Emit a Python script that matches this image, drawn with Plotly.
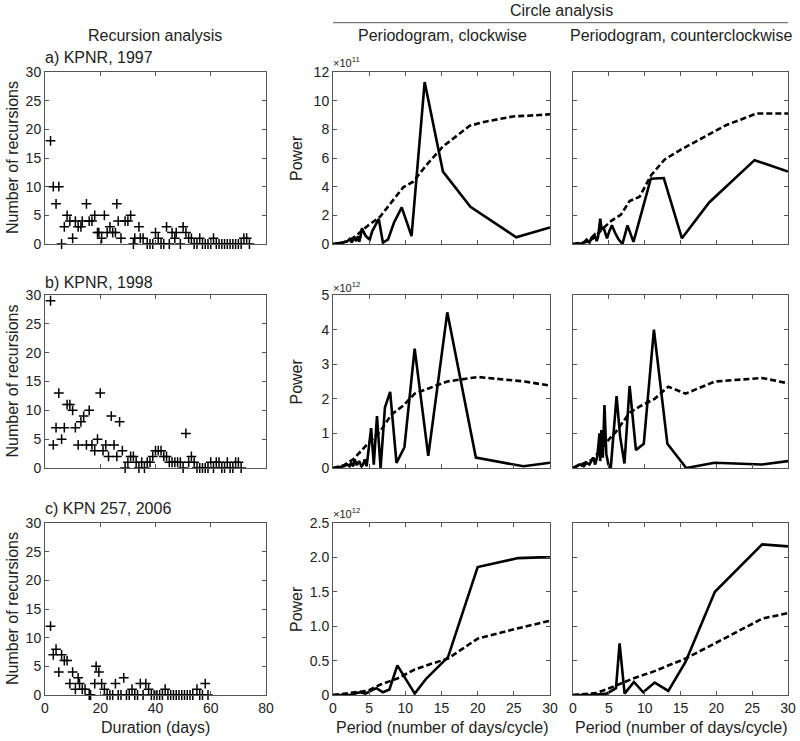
import plotly.graph_objects as go

# ---------------- data ----------------
# Recursion analysis (duration in days, number of recursions)
rec_a_days = [2, 3, 4, 5, 6, 7, 8, 9, 10, 11, 12, 13, 13.5, 15, 16, 17, 18, 19, 19.5, 20.5,
              21.5, 22.5, 23.5, 24.5, 25.5, 26, 26.5, 27.5, 29, 30, 31, 32, 32.5, 34, 34.5, 35.5,
              37, 38, 39, 40, 41, 42, 43, 44, 45, 46, 47, 47.5, 49, 50, 51, 52, 53, 54, 55, 56,
              57, 58, 59, 60, 61, 62, 63, 64, 65, 66, 67, 68, 69, 70, 71, 72, 73, 74]
rec_a_count = [18, 10, 7, 10, 0, 3, 5, 4, 1, 4, 3, 3, 4, 7, 4, 4, 5, 2, 2, 1,
               5, 2, 3, 2, 2, 7, 4, 1, 4, 4, 5, 0, 1, 3, 1, 1,
               0, 0, 0, 2, 1, 0, 0, 3, 0, 2, 1, 2, 0, 3, 2, 1, 1, 0, 0, 1,
               0, 0, 0, 0, 1, 0, 0, 0, 0, 0, 0, 0, 0, 0, 0, 1, 1, 0]

rec_b_days = [2, 3, 4, 5, 6, 7, 8, 9, 10, 11, 12, 13, 14, 15, 16, 17, 18, 19, 20, 21,
              22, 23, 24, 25, 26, 27, 28, 29, 30, 31, 32, 33, 34, 35, 36, 37, 38, 39, 40, 41,
              42, 43, 44, 45, 46, 47, 48, 49, 50, 51, 52, 53, 54, 55, 56, 57, 58, 59, 60, 61,
              62, 63, 64, 65, 66, 67, 68, 69, 70, 71]
rec_b_count = [29, 4, 7, 13, 5, 7, 11, 11, 10, 7, 4, 8, 9, 4, 10, 4, 3, 5, 13, 3,
               4, 2, 9, 4, 2, 8, 3, 0, 1, 2, 2, 1, 0, 1, 0, 1, 1, 2, 3, 3,
               3, 2, 2, 1, 1, 1, 1, 1, 0, 6, 1, 2, 1, 0, 0, 0, 0, 0, 1, 0,
               1, 1, 0, 0, 1, 0, 0, 1, 1, 0]

rec_c_days = [2, 3, 4, 5, 6, 7, 8, 9, 10, 11, 12, 12.5, 13.5, 14.5, 16, 16.5, 18, 18.5, 19.5, 20.5,
              21.5, 22.5, 23.5, 24.5, 25.5, 26.5, 27.5, 28.5, 29.5, 30.5, 31.5, 32.5, 33.5, 34.5, 35.5, 36.5,
              37.5, 38.5, 39.5, 40.5, 41.5, 42.5, 43.5, 44.5, 45.5, 46.5, 47.5, 48.5, 49.5, 50.5,
              51.5, 52.5, 53.5, 55, 56, 57, 58, 59]
rec_c_count = [12, 7, 8, 4, 7, 6, 6, 2, 4, 1, 3, 2, 1, 1, 0, 0, 2, 5, 4, 2,
               1, 0, 0, 0, 2, 0, 0, 3, 0, 0, 1, 0, 0, 2, 0, 2,
               1, 0, 0, 0, 0, 0, 1, 0, 0, 0, 0, 0, 0, 0,
               0, 0, 0, 1, 0, 0, 2, 0]

# Periodograms (period in days/cycle, power)
# row a (x 1e11)
a_cw_period = [0, 0.6, 1.0, 1.5, 2.0, 2.3, 2.6, 2.9, 3.2, 3.45, 3.62, 3.8, 4.0, 4.22, 4.47, 4.75,
               5.07, 5.43, 5.85, 6.33, 6.9, 7.6, 8.44, 9.5, 10.86, 12.67, 15.2, 19.0, 25.33, 30]
a_cw_power = [0, 0.03, 0.08, 0.12, 0.2, 0.35, 0.1, 0.45, 0.2, 0.55, 0.15, 0.5, 1.1, 0.8, 0.6, 0.45,
              0.3, 0.9, 1.3, 1.75, 0.1, 0.3, 1.5, 2.55, 0.55, 11.3, 5.05, 2.6, 0.47, 1.15]
a_cw_sig_period = [0, 1, 2, 3, 4.15, 5, 6.5, 8, 9.7, 11.1, 12.9, 15.2, 18.9, 21.2, 24.9, 28.6, 30]
a_cw_sig_power = [0, 0.05, 0.2, 0.5, 1.0, 1.35, 1.9, 2.9, 3.95, 4.35, 5.5, 6.8, 8.25, 8.55, 8.9, 9.0, 9.05]

a_ccw_period = [0, 1.0, 1.4, 1.9, 2.3, 2.6, 3.0, 3.3, 3.5, 3.8, 4.0, 4.22, 4.47, 4.75, 5.07, 5.43,
                5.85, 6.33, 6.9, 7.6, 8.44, 10.86, 12.67, 15.2, 19.0, 25.33, 30]
a_ccw_power = [0, 0, 0.05, 0.3, 0.1, 0.45, 0.65, 0.2, 0.5, 1.76, 1.0, 1.2, 0.8, 0.4, 0.9, 1.3,
               0.8, 0.35, 0.0, 1.3, 0.15, 4.55, 4.6, 0.4, 2.9, 5.85, 5.05]
a_ccw_sig_period = [0, 2, 3, 4, 5.3, 6.7, 7.9, 9.3, 10.9, 12.8, 15.1, 19.1, 21.4, 25.6, 30]
a_ccw_sig_power = [0, 0.15, 0.45, 1.0, 1.6, 2.05, 3.0, 3.3, 4.8, 5.9, 6.6, 7.7, 8.3, 9.1, 9.1]

# row b (x 1e12)
b_cw_period = [0, 1.0, 1.5, 2.0, 2.3, 2.5, 2.8, 3.0, 3.3, 3.6, 3.95, 4.16, 4.39, 4.65, 4.94, 5.27,
               5.64, 6.08, 6.58, 7.18, 7.9, 8.78, 9.875, 11.29, 13.17, 15.8, 19.75, 26.33, 30]
b_cw_power = [0, 0.02, 0.05, 0.1, 0.05, 0.15, 0.05, 0.25, 0.08, 0.2, 0.05, 0.1, 0.25, 0.05, 0.6, 1.15,
              0.1, 1.5, 0.0, 1.75, 2.2, 0.15, 0.6, 3.45, 0.35, 4.5, 0.3, 0.05, 0.15]
b_cw_sig_period = [0, 1.5, 2.8, 4.8, 6.5, 8.1, 9.7, 11.3, 13.2, 15.8, 20, 26.5, 30]
b_cw_sig_power = [0, 0.08, 0.25, 0.7, 1.05, 1.55, 1.8, 2.15, 2.3, 2.5, 2.63, 2.5, 2.38]

b_ccw_period = [0, 0.9, 1.5, 1.9, 2.3, 2.8, 3.1, 3.4, 3.7, 3.8, 3.95, 4.16, 4.39, 4.65, 4.94, 5.27,
                6.08, 6.58, 7.18, 7.9, 8.78, 9.875, 11.29, 13.17, 15.8, 19.75, 26.33, 30]
b_ccw_power = [0, 0.1, 0.05, 0.15, 0.1, 0.3, 0.1, 0.35, 1.0, 0.2, 1.1, 0.3, 1.82, 0.4, 0.1, 0.0,
               2.08, 0.9, 0.13, 2.37, 0.52, 0.7, 4.0, 0.7, 0.0, 0.15, 0.1, 0.2]
b_ccw_sig_period = [0, 2.8, 4.7, 6.0, 7.9, 9.5, 11.4, 13.3, 15.7, 19.8, 26.4, 30]
b_ccw_sig_power = [0, 0.25, 0.75, 1.05, 1.6, 1.8, 2.0, 2.35, 2.15, 2.5, 2.6, 2.45]

# row c (x 1e12)
c_cw_period = [0, 2.3, 3.7, 4.5, 5.2, 6.0, 6.9, 7.8, 8.9, 11.3, 12.9, 15.9, 20, 25.6, 28.6, 30]
c_cw_power = [0, 0, 0.04, 0.02, 0.06, 0.1, 0.04, 0.08, 0.43, 0.02, 0.24, 0.55, 1.86, 1.99, 2.0, 2.0]
c_cw_sig_period = [0, 2.8, 4.8, 6.5, 8.9, 11.3, 12.9, 15.9, 20, 25.6, 30]
c_cw_sig_power = [0, 0.03, 0.06, 0.15, 0.24, 0.37, 0.43, 0.53, 0.82, 0.97, 1.08]

c_ccw_period = [0, 2.8, 4.7, 6.0, 6.5, 7.2, 8.5, 9.8, 11.4, 13.3, 15.7, 19.8, 26.4, 30]
c_ccw_power = [0, 0, 0.02, 0.1, 0.75, 0.02, 0.19, 0.04, 0.18, 0.06, 0.48, 1.5, 2.19, 2.16]
c_ccw_sig_period = [0, 3.3, 5.6, 8.4, 11.2, 13.3, 15.7, 19.8, 26.4, 30]
c_ccw_sig_power = [0, 0.03, 0.12, 0.24, 0.34, 0.43, 0.53, 0.75, 1.11, 1.19]

panel_titles = ["a) KPNR, 1997", "b) KPNR, 1998", "c) KPN 257, 2006"]
exponents = ["11", "12", "12"]
power_ranges = [[0, 12], [0, 5], [0, 2.5]]
power_ticks = [[0, 2, 4, 6, 8, 10, 12], [0, 1, 2, 3, 4, 5], [0, 0.5, 1.0, 1.5, 2.0, 2.5]]
power_ticktext = [["0", "2", "4", "6", "8", "10", "12"], ["0", "1", "2", "3", "4", "5"],
                  ["0", "0.5", "1.0", "1.5", "2.0", "2.5"]]
rec_ticks = [0, 5, 10, 15, 20, 25, 30]
dur_ticks = [0, 20, 40, 60, 80]
per_ticks = [0, 5, 10, 15, 20, 25, 30]

# ---------------- layout helpers ----------------
W, H = 800, 741
FONT = "Liberation Sans, Arial, sans-serif"
TXT = "#222222"
FRAME = "#555555"


def fx(p):
    return p / W


def fy(p):
    return 1 - p / H


col_px = [(45, 266), (333, 550), (573, 788)]
row_px = [(72, 244), (295, 468), (523, 695)]

fig = go.Figure()

rec_data = [(rec_a_days, rec_a_count), (rec_b_days, rec_b_count), (rec_c_days, rec_c_count)]
cw_data = [(a_cw_period, a_cw_power, a_cw_sig_period, a_cw_sig_power),
           (b_cw_period, b_cw_power, b_cw_sig_period, b_cw_sig_power),
           (c_cw_period, c_cw_power, c_cw_sig_period, c_cw_sig_power)]
ccw_data = [(a_ccw_period, a_ccw_power, a_ccw_sig_period, a_ccw_sig_power),
            (b_ccw_period, b_ccw_power, b_ccw_sig_period, b_ccw_sig_power),
            (c_ccw_period, c_ccw_power, c_ccw_sig_period, c_ccw_sig_power)]

layout_axes = {}
for r in range(3):
    for c in range(3):
        idx = r * 3 + c + 1
        xa = f"x{idx}" if idx > 1 else "x"
        ya = f"y{idx}" if idx > 1 else "y"
        if c == 0:
            d, n = rec_data[r]
            fig.add_trace(go.Scatter(x=d, y=n, mode="markers", xaxis=xa, yaxis=ya,
                                     cliponaxis=False,
                                     marker=dict(symbol="cross-thin", size=7, color="black",
                                                 line=dict(width=1.5, color="black"))))
        else:
            per, pw, sp, sw = (cw_data if c == 1 else ccw_data)[r]
            fig.add_trace(go.Scatter(x=sp, y=sw, mode="lines", xaxis=xa, yaxis=ya,
                                     line=dict(color="black", width=2.6, dash="6px,3px")))
            fig.add_trace(go.Scatter(x=per, y=pw, mode="lines", xaxis=xa, yaxis=ya,
                                     line=dict(color="black", width=2.6)))
        x0, x1 = col_px[c]
        y0, y1 = row_px[r]
        common = dict(showline=True, linecolor=FRAME, linewidth=1, mirror="ticks",
                      ticks="inside", ticklen=4, tickcolor=FRAME, tickwidth=1,
                      showgrid=False, zeroline=False, automargin=False,
                      tickfont=dict(family=FONT, size=14, color=TXT))
        xkey = "xaxis" if idx == 1 else f"xaxis{idx}"
        ykey = "yaxis" if idx == 1 else f"yaxis{idx}"
        if c == 0:
            xr, xt = [0, 80], dur_ticks
            yr, yt, ytt = [0, 30], rec_ticks, [str(v) for v in rec_ticks]
        else:
            xr, xt = [0, 30], per_ticks
            yr, yt, ytt = power_ranges[r], power_ticks[r], power_ticktext[r]
        layout_axes[xkey] = dict(common, domain=[fx(x0), fx(x1)], anchor=ya, range=xr,
                                 tickvals=xt, ticktext=[str(v) for v in xt],
                                 showticklabels=(r == 2))
        layout_axes[ykey] = dict(common, domain=[fy(y1), fy(y0)], anchor=xa, range=yr,
                                 tickvals=yt, ticktext=ytt, showticklabels=(c != 2))

fig.update_layout(**layout_axes)

ann = []


def add_text(text, x, y, size=16, xanchor="center", yanchor="middle", angle=0):
    ann.append(dict(text=text, x=fx(x), y=fy(y), xref="paper", yref="paper",
                    showarrow=False, xanchor=xanchor, yanchor=yanchor, textangle=angle,
                    font=dict(family=FONT, size=size, color=TXT)))


add_text("Recursion analysis", 155, 35)
add_text("Circle analysis", 561, 10)
add_text("Periodogram, clockwise", 442, 35)
add_text("Periodogram, counterclockwise", 681, 35)
title_y = [58, 282, 508]
exp_y = [62, 287, 513]
for r in range(3):
    add_text(panel_titles[r], 43, title_y[r], xanchor="left")
    add_text("×10<sup>" + exponents[r] + "</sup>", 331, exp_y[r], size=11, xanchor="left")
    yc = (row_px[r][0] + row_px[r][1]) / 2
    add_text("Number of recursions", 12, yc, angle=-90)
    add_text("Power", 296, yc, angle=-90)
add_text("Duration (days)", 155, 727)
add_text("Period (number of days/cycle)", 442, 727)
add_text("Period (number of days/cycle)", 681, 727)

fig.update_layout(
    template="none",
    width=W, height=H, margin=dict(l=0, r=0, t=0, b=0, pad=0, autoexpand=False),
    paper_bgcolor="white", plot_bgcolor="white", showlegend=False,
    annotations=ann,
    shapes=[dict(type="line", xref="paper", yref="paper", x0=fx(333), x1=fx(788),
                 y0=fy(22.7), y1=fy(22.7), line=dict(color=FRAME, width=1))],
)

fig.write_html(
    "out.html",
    config={"displayModeBar": False},
    post_script="document.body.style.margin='0';document.body.style.padding='0';"
                "document.body.style.overflow='hidden';",
)
